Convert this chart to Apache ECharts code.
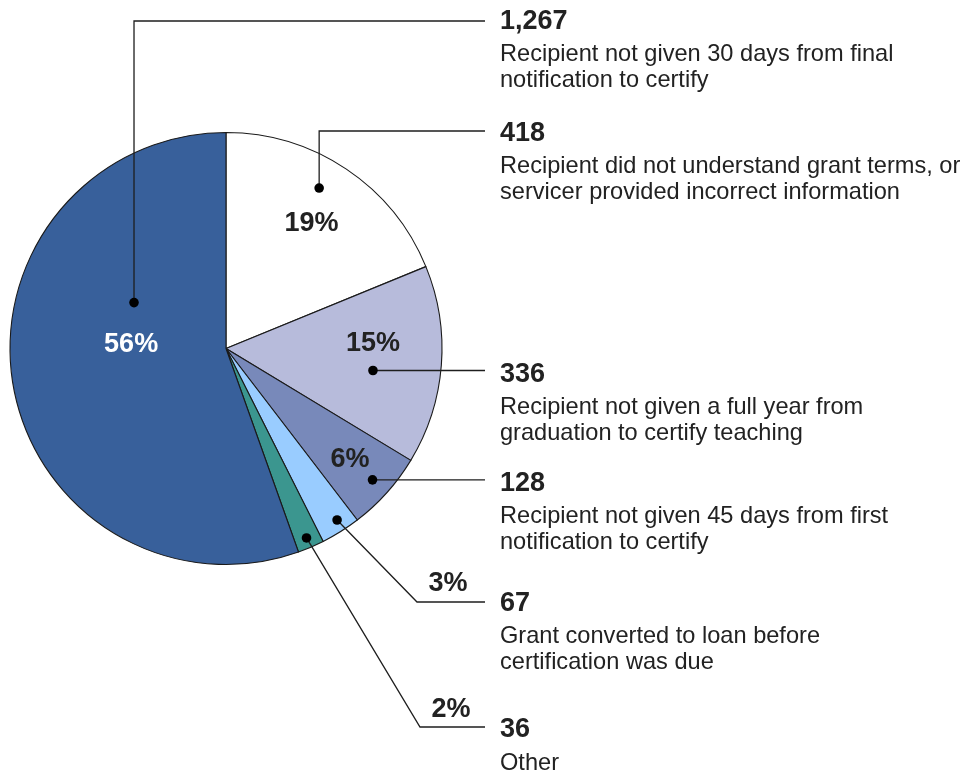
<!DOCTYPE html>
<html><head><meta charset="utf-8">
<script src="https://cdn.jsdelivr.net/npm/echarts@6/dist/echarts.min.js"></script>
<style>html,body{margin:0;padding:0;background:#fff}#c{width:980px;height:774px}</style>
</head><body><div id="c"></div>
<script>
// ---- data ----
const categories = ['Understanding', 'FullYear', 'Days45', 'Converted', 'Other', 'Days30'];
const counts = [418, 336, 128, 67, 36, 1267];
const countLabels = ['418', '336', '128', '67', '36', '1,267'];
const percents = [19, 15, 6, 3, 2, 56];
const percentLabels = ['19%', '15%', '6%', '3%', '2%', '56%'];
const descriptions = [
  ['Recipient did not understand grant terms, or', 'servicer provided incorrect information'],
  ['Recipient not given a full year from', 'graduation to certify teaching'],
  ['Recipient not given 45 days from first', 'notification to certify'],
  ['Grant converted to loan before', 'certification was due'],
  ['Other'],
  ['Recipient not given 30 days from final', 'notification to certify']
];
const colors = ['#ffffff', '#b7bbdb', '#7889ba', '#99ccff', '#3b968f', '#38609b'];

// ---- layout ----
const CX = 226, CY = 348.5, R = 216;
const FONT = '"Liberation Sans", Arial, sans-serif';
const dotPos = [[0.445, 0.859], [0.576, 0.688], [0.5, 0.911], [0.42, 0.946], [0.52, 0.953], [0.682, 0.476]];
const pctPos = [[0.503, 0.707], [0.369, 0.681], [0.478, 0.766], null, null, [0.566, 0.44]];
const callout = [
  { type: 'up', lineY: 131, numY: 133.5 },
  { type: 'flat', dy: 4 },
  { type: 'flat', dy: 4 },
  { type: 'diag', elbowX: 417, lineY: 602, numY: 603.5, pctX: 448, pctY: 584 },
  { type: 'diag', elbowX: 420, lineY: 727, numY: 730, pctX: 451, pctY: 710 },
  { type: 'up', lineY: 21, numY: 21.5 }
];
const LINE_END = 485, TEXT_X = 500, DESC_GAP = 33, DESC_LH = 26;

const total = percents.reduce((a, b) => a + b, 0);
const starts = [];
percents.reduce((acc, v, i) => { starts[i] = acc; return acc + v; }, 0);

const dotData = percents.map((v, i) => [dotPos[i][1], starts[i] + dotPos[i][0] * v, i]);
const pctData = [];
percents.forEach((v, i) => { if (pctPos[i]) pctData.push([pctPos[i][1], starts[i] + pctPos[i][0] * v, i]); });

const chart = echarts.init(document.getElementById('c'), null, { renderer: 'canvas' });
chart.setOption({
  animation: false,
  backgroundColor: '#ffffff',
  polar: { center: [CX, CY], radius: R },
  angleAxis: { type: 'value', min: 0, max: total, startAngle: 90, clockwise: true, show: false },
  radiusAxis: { type: 'value', min: 0, max: 1, show: false },
  series: [
    {
      type: 'pie',
      center: [CX, CY],
      radius: R,
      startAngle: 90,
      clockwise: true,
      silent: true,
      label: { show: false },
      labelLine: { show: false },
      itemStyle: { borderColor: '#1a1a1a', borderWidth: 1.1 },
      emphasis: { disabled: true },
      data: percents.map((v, i) => ({ name: categories[i], value: v, itemStyle: { color: colors[i] } })),
      z: 1
    },
    {
      type: 'custom',
      coordinateSystem: 'polar',
      silent: true,
      encode: { radius: 0, angle: 1 },
      data: pctData,
      z: 3,
      renderItem: function (params, api) {
        const i = api.value(2);
        const p = api.coord([api.value(0), api.value(1)]);
        return {
          type: 'text',
          style: {
            x: p[0], y: p[1] + 2, text: percentLabels[i],
            font: 'bold 27px ' + FONT,
            fill: i === 5 ? '#ffffff' : '#222222',
            align: 'center', verticalAlign: 'middle'
          }
        };
      }
    },
    {
      type: 'custom',
      coordinateSystem: 'polar',
      silent: true,
      encode: { radius: 0, angle: 1 },
      data: dotData,
      z: 4,
      renderItem: function (params, api) {
        const i = api.value(2);
        const p = api.coord([api.value(0), api.value(1)]);
        const c = callout[i];
        let pts, numY;
        if (c.type === 'up') {
          pts = [p, [p[0], c.lineY], [LINE_END, c.lineY]];
          numY = c.numY;
        } else if (c.type === 'flat') {
          pts = [p, [LINE_END, p[1]]];
          numY = p[1] + c.dy;
        } else {
          pts = [p, [c.elbowX, c.lineY], [LINE_END, c.lineY]];
          numY = c.numY;
        }
        const children = [
          { type: 'polyline', shape: { points: pts }, style: { stroke: '#1e1e1e', lineWidth: 1.3, fill: null } },
          { type: 'circle', shape: { cx: p[0], cy: p[1], r: 4.8 }, style: { fill: '#000000' } },
          { type: 'text', style: { x: TEXT_X, y: numY, text: countLabels[i], font: 'bold 27px ' + FONT, fill: '#222222', align: 'left', verticalAlign: 'middle' } }
        ];
        descriptions[i].forEach((line, k) => {
          children.push({ type: 'text', style: { x: TEXT_X, y: numY + DESC_GAP + k * DESC_LH, text: line, font: '23.6px ' + FONT, fill: '#222222', align: 'left', verticalAlign: 'middle' } });
        });
        if (c.type === 'diag') {
          children.push({ type: 'text', style: { x: c.pctX, y: c.pctY, text: percentLabels[i], font: 'bold 27px ' + FONT, fill: '#222222', align: 'center', verticalAlign: 'middle' } });
        }
        return { type: 'group', children: children };
      }
    }
  ]
});
</script>
</body></html>
